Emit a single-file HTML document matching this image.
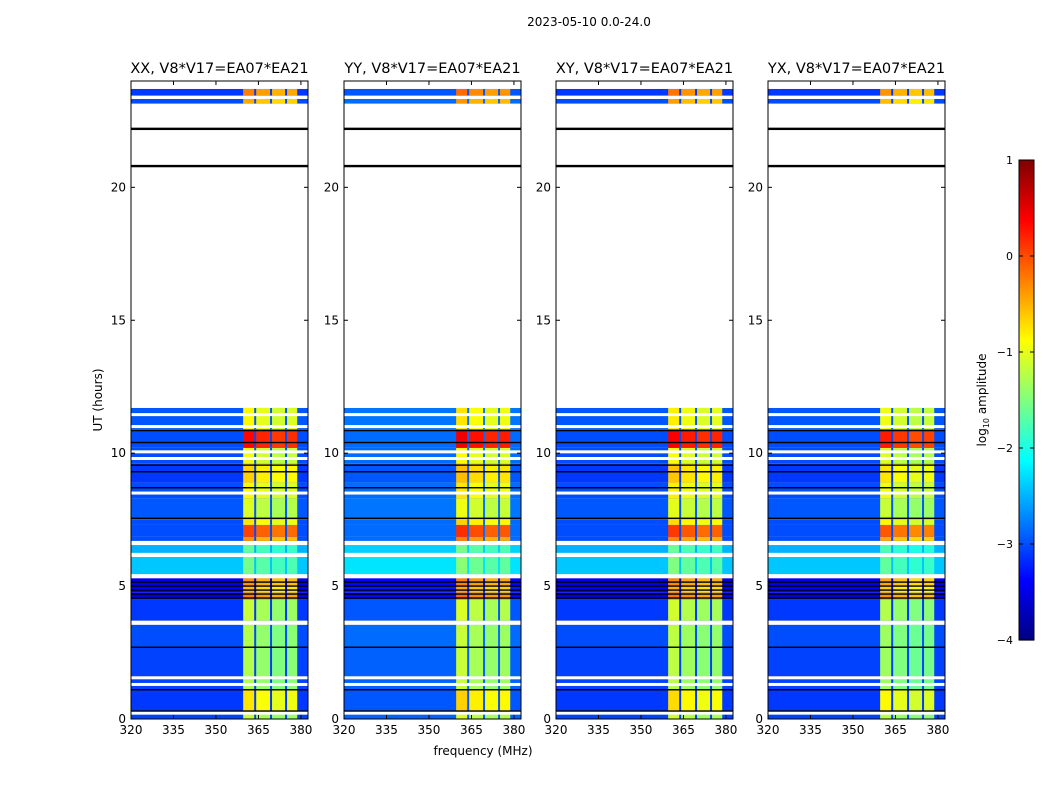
<!DOCTYPE html>
<html><head><meta charset="utf-8">
<style>
body{margin:0;background:#fff;}
svg{display:block;font-family:"DejaVu Sans","Liberation Sans",sans-serif;}
</style></head>
<body>
<svg id="fig" width="1050" height="800" viewBox="0 0 1050 800" xmlns="http://www.w3.org/2000/svg">
<rect width="1050" height="800" fill="#fff"/>
<text x="589" y="26" font-size="12" text-anchor="middle">2023-05-10 0.0-24.0</text>
<text x="483" y="755" font-size="12" text-anchor="middle">frequency (MHz)</text>
<text transform="translate(102,400) rotate(-90)" font-size="12" text-anchor="middle">UT (hours)</text>
<g id="panels"></g>
<g id="cbar"></g>
</svg>
<script>
// ---- data ----
const panelTitles = ["XX, V8*V17=EA07*EA21","YY, V8*V17=EA07*EA21","XY, V8*V17=EA07*EA21","YX, V8*V17=EA07*EA21"];
const panelBaseShift = [0, 0.15, 0, 0];
const panelBandShift = [0, 0.1, 0.05, -0.1];
const xTicks = [320,335,350,365,380];
const yTicks = [0,5,10,15,20];
// time segments (hours) with background and RFI-band log10 amplitude
const segStart = [0.0,0.3,1.1,2.7,3.7,4.5,4.75,5.0,5.45,6.25,6.7,6.85,7.3,7.5,8.3,8.9,9.6,10.2,10.9,23.15,23.45];
const segEnd   = [0.2,1.1,2.7,3.55,4.5,4.75,5.0,5.3,6.1,6.55,6.85,7.3,7.5,8.3,8.9,9.6,10.2,10.9,11.7,23.35,23.7];
const segBase  = [-3.05,-3.1,-3.05,-3.0,-3.1,-3.5,-3.4,-3.5,-2.4,-2.5,-3.0,-3.0,-3.0,-2.95,-3.0,-3.1,-3.0,-3.0,-2.95,-3.0,-3.1];
const segBand  = [-1.3,-0.9,-1.4,-1.4,-1.3,-0.4,-0.7,-0.5,-1.7,-1.8,-0.5,-0.1,-0.9,-1.2,-1.0,-0.8,-1.1,0.2,-1.0,-0.6,-0.4];
// RFI sub-bands (MHz) and relative offsets
const subStart = [359.6,364.2,369.8,375.1];
const subEnd   = [363.5,369.1,374.4,378.7];
const subOffset= [0.15,0.0,-0.1,-0.05];
// flagged gaps and lines (hours)
const whiteGaps = [0.22,1.3,1.55,3.6,5.35,6.15,6.6,8.5,9.8,10.05,11.0,11.45,23.38];
const blackLines = [0.3,1.1,2.7,4.55,4.7,4.85,5.0,5.15,7.55,8.7,9.3,9.55,10.4,10.85,20.8,22.2];
const cbTicks = [1,0,-1,-2,-3,-4];

// ---- scales ----
const panelX = [131,344,556,768];
const panelW = 177, topY=81, botY=719;
const fMin=320, fMax=382.5, hMin=0, hMax=24;
function xs(p,f){return panelX[p]+(f-fMin)/(fMax-fMin)*panelW;}
function ys(h){return botY-(h-hMin)/(hMax-hMin)*(botY-topY);}
function jet(v){
  let t=Math.max(0,Math.min(1,(v+4)/5));
  const r=Math.max(0,Math.min(1,1.5-Math.abs(4*t-3)));
  const g=Math.max(0,Math.min(1,1.5-Math.abs(4*t-2)));
  const b=Math.max(0,Math.min(1,1.5-Math.abs(4*t-1)));
  return `rgb(${Math.round(r*255)},${Math.round(g*255)},${Math.round(b*255)})`;
}
const NS="http://www.w3.org/2000/svg";
function mk(tag,attrs,parent){const e=document.createElementNS(NS,tag);for(const k in attrs)e.setAttribute(k,attrs[k]);parent.appendChild(e);return e;}
const panelsG=document.getElementById('panels');
for(let p=0;p<4;p++){
  const g=mk('g',{},panelsG);
  
  
  for(let i=0;i<segStart.length;i++){
    const y0=ys(segEnd[i]), y1=ys(segStart[i]);
    const bg=mk('rect',{x:xs(p,fMin),y:y0,width:panelW,height:y1-y0,fill:jet(segBase[i]+panelBaseShift[p])},g);
    
    
    for(let s=0;s<subStart.length;s++){
      const v=segBand[i]+panelBandShift[p]+subOffset[s];
      const r=mk('rect',{x:xs(p,subStart[s]),y:y0,width:xs(p,subEnd[s])-xs(p,subStart[s]),height:y1-y0,fill:jet(v)},g);
      
      
    }
  }
  for(const h of whiteGaps){
    const l=mk('rect',{x:xs(p,fMin),y:ys(h)-1.5,width:panelW,height:3,fill:'#fff'},g);
    
    
  }
  for(const h of blackLines){
    const l=mk('rect',{x:xs(p,fMin),y:ys(h)-(h>15?1.2:0.7),width:panelW,height:h>15?2.4:1.4,fill:'#000'},g);
    
    
  }
  const fr=mk('rect',{x:panelX[p],y:topY,width:panelW,height:botY-topY,fill:'none',stroke:'#000','stroke-width':1},g);
  
  
  const t=mk('text',{x:panelX[p]+panelW/2,y:73,'font-size':14.5,'text-anchor':'middle'},g);
  t.textContent=panelTitles[p];
  
  
  for(const f of xTicks){
    const x=xs(p,f);
    mk('line',{x1:x,x2:x,y1:botY,y2:botY-4,stroke:'#000'},g);
    mk('line',{x1:x,x2:x,y1:topY,y2:topY+4,stroke:'#000'},g);
    const tl=mk('text',{x:x,y:botY+15,'font-size':12,'text-anchor':'middle'},g);
    tl.textContent=f;
    
    
  }
  for(const h of yTicks){
    const y=ys(h);
    mk('line',{x1:panelX[p],x2:panelX[p]+4,y1:y,y2:y,stroke:'#000'},g);
    mk('line',{x1:panelX[p]+panelW,x2:panelX[p]+panelW-4,y1:y,y2:y,stroke:'#000'},g);
    const tl=mk('text',{x:panelX[p]-5,y:y+4,'font-size':12,'text-anchor':'end'},g);
    tl.textContent=h;
    
    
  }
}
// colorbar
const cb=document.getElementById('cbar');


const cbX=1019,cbW=15,cbT=160,cbB=640;
function cy(v){return cbB-(v+4)/5*(cbB-cbT);}
for(let i=0;i<240;i++){
  const v=-4+5*i/240;
  mk('rect',{x:cbX,y:cy(v+5/240),width:cbW,height:(cbB-cbT)/240+0.6,fill:jet(v+2.5/240)},cb);
}
mk('rect',{x:cbX,y:cbT,width:cbW,height:cbB-cbT,fill:'none',stroke:'#000'},cb);
for(const v of cbTicks){
  const y=cy(v);
  mk('line',{x1:cbX,x2:cbX+4,y1:y,y2:y,stroke:'#000'},cb);
  mk('line',{x1:cbX+cbW,x2:cbX+cbW-4,y1:y,y2:y,stroke:'#000'},cb);
  const tl=mk('text',{x:1013,y:y+4,'font-size':11,'text-anchor':'end'},cb);
  tl.textContent=(v<0?'\u2212'+(-v):v);
  
  
}
const cl=mk('text',{transform:'translate(986,400) rotate(-90)','font-size':12,'text-anchor':'middle'},cb);
cl.innerHTML='log<tspan font-size="8" dy="3">10</tspan><tspan dy="-3"> amplitude</tspan>';


</script>
</body></html>
